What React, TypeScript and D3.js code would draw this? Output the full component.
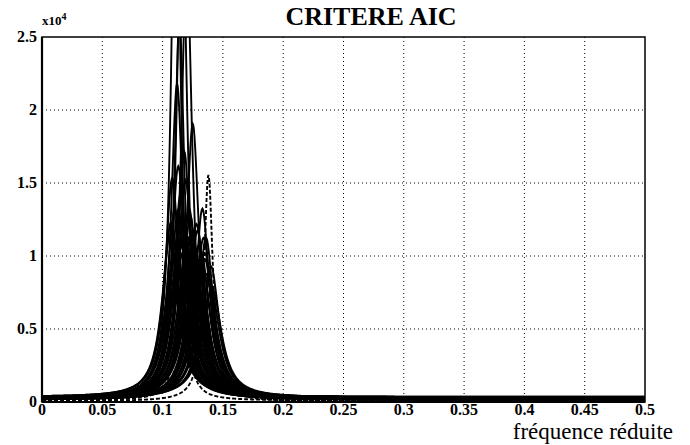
import React, { useEffect, useRef } from 'react';
import * as d3 from 'd3';

// x10^4 units
const xTicks = [0, 0.05, 0.1, 0.15, 0.2, 0.25, 0.3, 0.35, 0.4, 0.45, 0.5];
const xTickLabels = ['0', '0.05', '0.1', '0.15', '0.2', '0.25', '0.3', '0.35', '0.4', '0.45', '0.5'];
const yTicks = [0, 0.5, 1, 1.5, 2, 2.5];
const yTickLabels = ['0', '0.5', '1', '1.5', '2', '2.5'];

// one entry per estimated spectrum
const peakFreq = [
  0.111, 0.116, 0.120, 0.112, 0.114, 0.125, 0.108, 0.110, 0.113, 0.115,
  0.117, 0.119, 0.121, 0.106, 0.109, 0.118, 0.122, 0.124, 0.128, 0.130,
  0.133, 0.135, 0.138, 0.131, 0.136, 0.140, 0.127, 0.116, 0.123, 0.126,
  0.107, 0.110, 0.112, 0.114, 0.117, 0.119, 0.121, 0.124, 0.126, 0.129,
  0.132, 0.134, 0.137, 0.139, 0.129, 0.133, 0.108, 0.111, 0.115, 0.120,
  0.125, 0.130, 0.135, 0.141, 0.113, 0.118,
];
const peakHeight = [
  4.0, 3.5, 3.0, 2.15, 2.6, 1.88, 1.5, 1.3, 1.6, 1.4,
  1.2, 1.5, 1.1, 1.1, 0.95, 1.7, 1.3, 1.0, 1.2, 1.05,
  1.31, 0.95, 1.55, 0.85, 1.1, 0.9, 1.0, 0.7, 1.25, 0.9,
  1.2, 1.05, 0.9, 1.15, 1.0, 0.95, 1.25, 1.15, 1.05, 0.95,
  1.0, 1.1, 0.85, 0.8, 1.15, 0.9, 0.85, 1.0, 1.05, 0.9,
  1.1, 0.85, 1.0, 0.75, 1.3, 1.2,
];
const peakWidth = [
  0.0045, 0.005, 0.0055, 0.006, 0.005, 0.0065, 0.007, 0.0075, 0.007, 0.007,
  0.008, 0.007, 0.008, 0.008, 0.009, 0.0065, 0.0075, 0.008, 0.0075, 0.008,
  0.007, 0.008, 0.0045, 0.009, 0.0075, 0.0085, 0.008, 0.006, 0.0075, 0.0085,
  0.008, 0.0085, 0.009, 0.008, 0.0085, 0.009, 0.0075, 0.008, 0.0085, 0.009,
  0.0085, 0.008, 0.009, 0.0095, 0.008, 0.009, 0.0095, 0.009, 0.0085, 0.009,
  0.0085, 0.0095, 0.009, 0.0095, 0.0075, 0.008,
];
const floorLevel = [
  0.02, 0.025, 0.015, 0.03, 0.02, 0.025, 0.035, 0.02, 0.015, 0.03,
  0.025, 0.02, 0.03, 0.035, 0.02, 0.015, 0.025, 0.03, 0.02, 0.025,
  0.015, 0.03, 0.005, 0.02, 0.025, 0.03, 0.02, 0.01, 0.025, 0.02,
  0.03, 0.02, 0.025, 0.015, 0.03, 0.02, 0.025, 0.02, 0.03, 0.015,
  0.02, 0.025, 0.03, 0.02, 0.025, 0.015, 0.02, 0.025, 0.03, 0.02,
  0.015, 0.025, 0.02, 0.03, 0.02, 0.025,
];
const dashedCurves = [22, 27];

const serif = "'Liberation Serif', 'Times New Roman', serif";

function App() {
  const ref = useRef<SVGSVGElement>(null);

  useEffect(() => {
    const svg = d3.select(ref.current);
    svg.selectAll('*').remove();

    const left = 42, right = 645, top = 37, bottom = 402;
    const x = d3.scaleLinear().domain([0, 0.5]).range([left, right]);
    const y = d3.scaleLinear().domain([0, 2.5]).range([bottom, top]);

    svg.append('clipPath').attr('id', 'plot')
      .append('rect')
      .attr('x', left).attr('y', top)
      .attr('width', right - left).attr('height', bottom - top);

    // dotted grid
    const grid = svg.append('g')
      .attr('stroke', '#000')
      .attr('stroke-width', 1)
      .attr('stroke-dasharray', '1 3');
    xTicks.slice(1, -1).forEach(t => {
      grid.append('line')
        .attr('x1', x(t)).attr('x2', x(t))
        .attr('y1', top).attr('y2', bottom);
    });
    yTicks.slice(1, -1).forEach(t => {
      grid.append('line')
        .attr('x1', left).attr('x2', right)
        .attr('y1', y(t)).attr('y2', y(t));
    });

    // spectra
    const freqs = d3.range(0, 0.5001, 0.0005);
    const curves = svg.append('g').attr('clip-path', 'url(#plot)');
    peakFreq.forEach((f0, i) => {
      const h = peakHeight[i], g = peakWidth[i], fl = floorLevel[i];
      const vals = freqs.map(f => fl + h * g * g / ((f - f0) * (f - f0) + g * g));
      const path = d3.line<number>()
        .x((_, j) => x(freqs[j]))
        .y(v => y(Math.min(v, 2.7)));
      curves.append('path')
        .attr('d', path(vals))
        .attr('fill', 'none')
        .attr('stroke', '#000')
        .attr('stroke-width', 1.9)
        .attr('stroke-dasharray', dashedCurves.includes(i) ? '4 2' : null);
    });

    // frame
    svg.append('rect')
      .attr('x', left).attr('y', top)
      .attr('width', right - left).attr('height', bottom - top)
      .attr('fill', 'none')
      .attr('stroke', '#000')
      .attr('stroke-width', 1.5);
    svg.append('line')
      .attr('x1', left).attr('x2', left).attr('y1', top).attr('y2', bottom)
      .attr('stroke', '#000').attr('stroke-width', 2.2);
    svg.append('line')
      .attr('x1', left).attr('x2', right).attr('y1', bottom).attr('y2', bottom)
      .attr('stroke', '#000').attr('stroke-width', 2.2);

    // tick labels
    svg.append('g')
      .selectAll('text')
      .data(xTicks)
      .join('text')
      .attr('x', d => x(d))
      .attr('y', 415)
      .attr('text-anchor', 'middle')
      .style('font-weight', 'bold')
      .style('font-size', '16px')
      .text((_, i) => xTickLabels[i]);

    svg.append('g')
      .selectAll('text')
      .data(yTicks)
      .join('text')
      .attr('x', 37)
      .attr('y', d => y(d) + 5)
      .attr('text-anchor', 'end')
      .style('font-weight', 'bold')
      .style('font-size', '16px')
      .text((_, i) => yTickLabels[i]);

    // exponent
    const exp = svg.append('text')
      .attr('x', 42).attr('y', 25)
      .style('font-weight', 'bold')
      .style('font-size', '13px');
    exp.append('tspan').text('x10');
    exp.append('tspan').attr('dy', -5).style('font-size', '10px').text('4');

    svg.append('text')
      .attr('x', 371).attr('y', 25)
      .attr('text-anchor', 'middle')
      .style('font-weight', 'bold')
      .style('font-size', '26px')
      .text('CRITERE AIC');

    svg.append('text')
      .attr('x', 673).attr('y', 439)
      .attr('text-anchor', 'end')
      .style('font-size', '23px')
      .text('fréquence réduite');
  }, []);

  return (
    <svg
      ref={ref}
      width={690}
      height={445}
      style={{ position: 'absolute', left: 0, top: 0, background: '#fff', fontFamily: serif }}
    />
  );
}

export default App;
